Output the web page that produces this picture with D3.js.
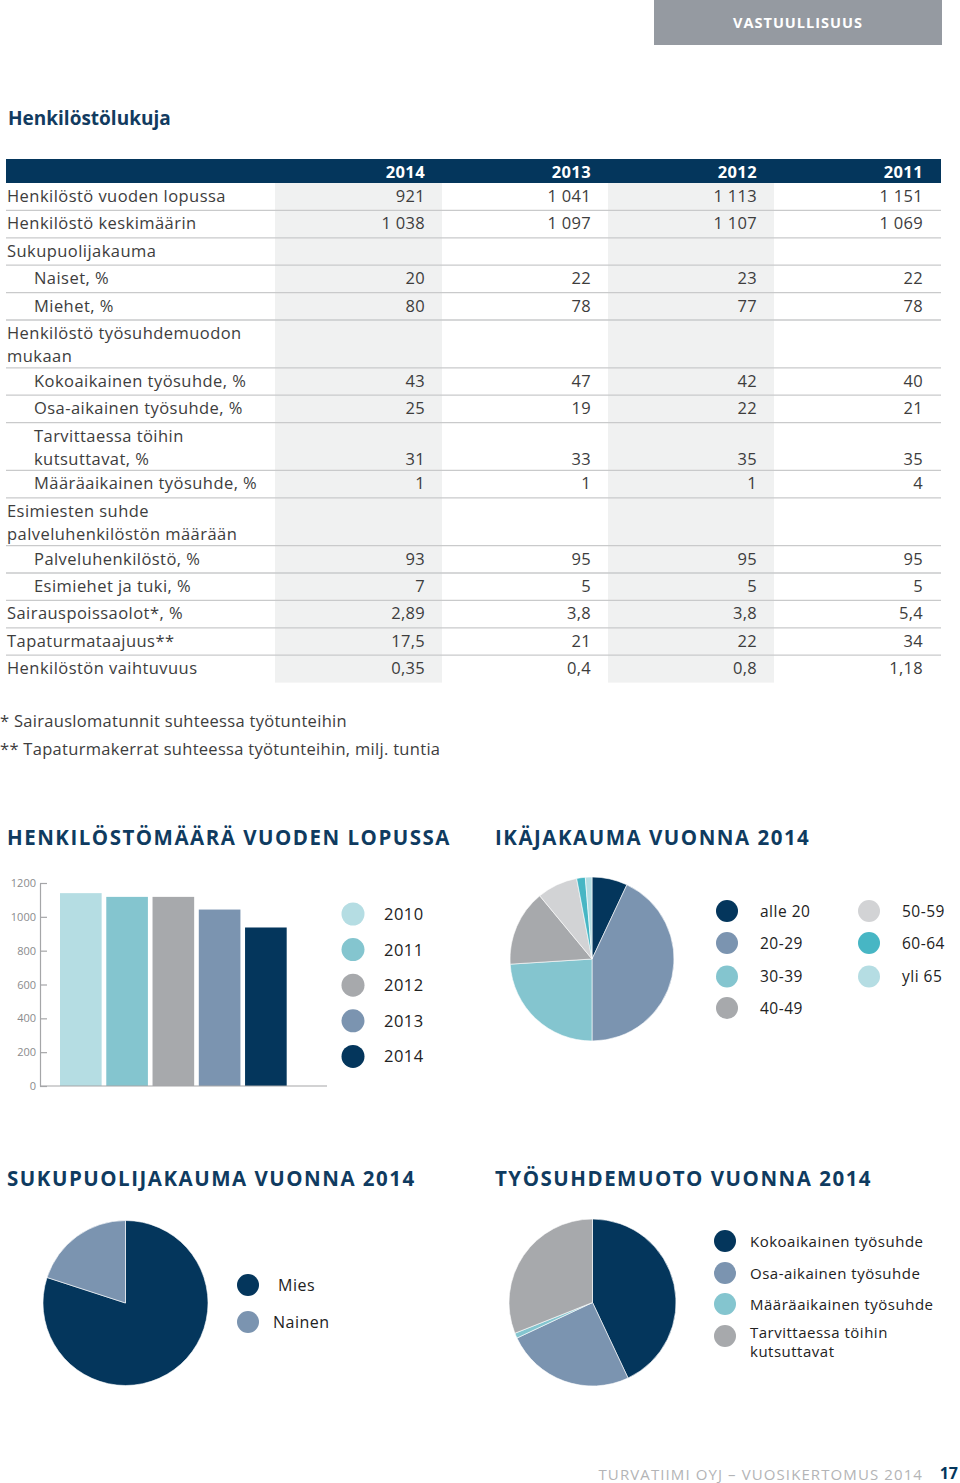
<!DOCTYPE html>
<html>
<head>
<meta charset="utf-8">
<script src="https://cdn.jsdelivr.net/npm/d3@7"></script>
<style>
  html, body { margin: 0; padding: 0; background: #fff; }
  svg { display: block; font-family: "Open Sans", "Noto Sans", sans-serif; }
</style>
</head>
<body>
<svg id="page" width="960" height="1483"></svg>
<script>
// ---------- DATA ----------
const tableYears = ["2014", "2013", "2012", "2011"];
const rowLabels = [
  ["Henkilöstö vuoden lopussa"],
  ["Henkilöstö keskimäärin"],
  ["Sukupuolijakauma"],
  ["Naiset, %"],
  ["Miehet, %"],
  ["Henkilöstö työsuhdemuodon", "mukaan"],
  ["Kokoaikainen työsuhde, %"],
  ["Osa-aikainen työsuhde, %"],
  ["Tarvittaessa töihin", "kutsuttavat, %"],
  ["Määräaikainen työsuhde, %"],
  ["Esimiesten suhde", "palveluhenkilöstön määrään"],
  ["Palveluhenkilöstö, %"],
  ["Esimiehet ja tuki, %"],
  ["Sairauspoissaolot*, %"],
  ["Tapaturmataajuus**"],
  ["Henkilöstön vaihtuvuus"]
];
const rowIndent = [0,0,0,1,1,0,1,1,1,1,0,1,1,0,0,0];
const values2014 = ["921","1 038","","20","80","","43","25","31","1","","93","7","2,89","17,5","0,35"];
const values2013 = ["1 041","1 097","","22","78","","47","19","33","1","","95","5","3,8","21","0,4"];
const values2012 = ["1 113","1 107","","23","77","","42","22","35","1","","95","5","3,8","22","0,8"];
const values2011 = ["1 151","1 069","","22","78","","40","21","35","4","","95","5","5,4","34","1,18"];
const footnotes = ["* Sairauslomatunnit suhteessa työtunteihin", "** Tapaturmakerrat suhteessa työtunteihin, milj. tuntia"];

const barYears = ["2010", "2011", "2012", "2013", "2014"];
const barValues = [1140, 1118, 1118, 1043, 937];
const barTicks = [0, 200, 400, 600, 800, 1000, 1200];

const ageGroups = ["alle 20", "20-29", "30-39", "40-49", "50-59", "60-64", "yli 65"];
const ageShares = [7, 43, 24, 15, 8, 1.7, 1.3];

const genderGroups = ["Mies", "Nainen"];
const genderShares = [80, 20];

const empGroups = ["Kokoaikainen työsuhde", "Osa-aikainen työsuhde", "Määräaikainen työsuhde", "Tarvittaessa töihin kutsuttavat"];
const empShares = [43, 25, 1, 31];

// ---------- STYLE ----------
const NAVY = "#04365c", SLATE = "#7b94b0", TEAL_L = "#84c5cf", GRAY = "#a7a9ac",
      LGRAY = "#d2d3d5", TEAL = "#47b6c4", PALE = "#b5dde3", TEXT = "#3d3d3d";

const svg = d3.select("#page");

// Top tab
svg.append("rect").attr("x", 654).attr("y", 0).attr("width", 288).attr("height", 45).attr("fill", "#959aa1");
svg.append("text").attr("x", 798).attr("y", 28).attr("text-anchor", "middle")
  .attr("fill", "#fff").attr("font-weight", 700).attr("font-size", 14.5).attr("letter-spacing", 1)
  .text("VASTUULLISUUS");

// Title
svg.append("text").attr("x", 8).attr("y", 125).attr("fill", "#123b60").attr("font-weight", 700)
  .attr("font-size", 19).text("Henkilöstölukuja");

// ---------- TABLE ----------
const tLeft = 6, tRight = 941, headTop = 159, headBottom = 183;
const singleH = 27.4, doubleH = 47.8;
const colRight = [425, 591, 757, 923];
const shadeCols = [[275, 442], [608, 774]];
const colValues = [values2014, values2013, values2012, values2011];

const rowTops = [];
let yy = headBottom;
rowLabels.forEach(l => { rowTops.push(yy); yy += (l.length > 1 ? doubleH : singleH); });
const tableBottom = yy;

const g = svg.append("g");
shadeCols.forEach(([a, b]) => {
  g.append("rect").attr("x", a).attr("y", headBottom).attr("width", b - a)
    .attr("height", tableBottom - headBottom).attr("fill", "#f0f1f1");
});
g.append("rect").attr("x", tLeft).attr("y", headTop).attr("width", tRight - tLeft)
  .attr("height", headBottom - headTop).attr("fill", NAVY);
g.selectAll("text.yr").data(tableYears).join("text").attr("class", "yr")
  .attr("x", (d, i) => colRight[i]).attr("y", headTop + 19).attr("text-anchor", "end")
  .attr("fill", "#fff").attr("font-weight", 700).attr("font-size", 16.5).attr("letter-spacing", 0.4).text(d => d);

// separators
g.selectAll("line.sep").data(rowTops.slice(1)).join("line").attr("class", "sep")
  .attr("x1", tLeft).attr("x2", tRight).attr("y1", d => d).attr("y2", d => d)
  .attr("stroke", "#c9cacb").attr("stroke-width", 1.3);

rowLabels.forEach((lines, i) => {
  const top = rowTops[i];
  lines.forEach((ln, k) => {
    g.append("text").attr("x", rowIndent[i] ? 34 : 7).attr("y", top + 19 + k * 23)
      .attr("fill", TEXT).attr("font-size", 16.5).attr("letter-spacing", 0.45).text(ln);
  });
  const vy = top + 19 + (lines.length - 1) * 23;
  colValues.forEach((vals, c) => {
    if (vals[i]) g.append("text").attr("x", colRight[c]).attr("y", vy).attr("text-anchor", "end")
      .attr("fill", TEXT).attr("font-size", 16.5).attr("letter-spacing", 0.3).text(vals[i]);
  });
});

// footnotes
svg.selectAll("text.fn").data(footnotes).join("text").attr("class", "fn")
  .attr("x", 0).attr("y", (d, i) => 727 + i * 28).attr("fill", TEXT).attr("font-size", 16.5)
  .attr("letter-spacing", 0.3).text(d => d);

// ---------- SECTION TITLES ----------
const titles = [
  ["HENKILÖSTÖMÄÄRÄ VUODEN LOPUSSA", 7, 845],
  ["IKÄJAKAUMA VUONNA 2014", 495, 845],
  ["SUKUPUOLIJAKAUMA VUONNA 2014", 7, 1186],
  ["TYÖSUHDEMUOTO VUONNA 2014", 495, 1186]
];
svg.selectAll("text.st").data(titles).join("text").attr("class", "st")
  .attr("x", d => d[1]).attr("y", d => d[2]).attr("fill", "#0f3b60")
  .attr("font-weight", 700).attr("font-size", 20.5).attr("letter-spacing", 1.5).text(d => d[0]);

// ---------- BAR CHART ----------
const x = d3.scaleBand().domain(barYears).range([57.7, 289]).paddingInner(0.1).paddingOuter(0.05);
const y = d3.scaleLinear().domain([0, 1200]).range([1086, 883]);
const barColor = d3.scaleOrdinal().domain(barYears).range([PALE, TEAL_L, GRAY, SLATE, NAVY]);

const axisG = svg.append("g").attr("transform", "translate(40,0)")
  .call(d3.axisLeft(y).tickValues(barTicks).tickFormat(d3.format("d"))
    .tickSize(-7).tickPadding(4).tickSizeOuter(0));
axisG.select(".domain").attr("stroke", "#a5a6a8").attr("stroke-width", 1.2);
axisG.selectAll(".tick line").attr("stroke", "#a5a6a8").attr("stroke-width", 1.2);
axisG.selectAll(".tick text").attr("fill", "#8a8b8d").attr("font-size", 11)
  .attr("font-family", "'Open Sans', sans-serif");

svg.selectAll("rect.bar").data(barYears).join("rect").attr("class", "bar")
  .attr("x", d => x(d)).attr("width", x.bandwidth())
  .attr("y", (d, i) => y(barValues[i])).attr("height", (d, i) => y(0) - y(barValues[i]))
  .attr("fill", d => barColor(d));
svg.append("line").attr("x1", 40).attr("x2", 327).attr("y1", y(0)).attr("y2", y(0))
  .attr("stroke", "#a5a6a8").attr("stroke-width", 1.2);

// bar legend
const barLeg = svg.selectAll("g.bl").data(barYears).join("g").attr("class", "bl")
  .attr("transform", (d, i) => `translate(353,${914 + i * 35.6})`);
barLeg.append("circle").attr("r", 11.5).attr("fill", d => barColor(d));
barLeg.append("text").attr("x", 31).attr("y", 6).attr("font-size", 16.5).attr("fill", "#222")
  .attr("letter-spacing", 0.5).text(d => d);

// ---------- PIES ----------
const pie = d3.pie().sort(null).value(d => d);

function drawPie(cx, cy, r, shares, colors) {
  const arc = d3.arc().innerRadius(0).outerRadius(r);
  svg.append("g").attr("transform", `translate(${cx},${cy})`)
    .selectAll("path").data(pie(shares)).join("path")
    .attr("d", arc).attr("fill", (d, i) => colors[i])
    .attr("stroke", "#fff").attr("stroke-width", 0.6);
}

// age pie
const ageColors = [NAVY, SLATE, TEAL_L, GRAY, LGRAY, TEAL, PALE];
drawPie(592, 959, 82, ageShares, ageColors);
const ageLegPos = [[727, 911], [727, 943], [727, 976.5], [727, 1008], [869, 911], [869, 943], [869, 976.5]];
const ageLeg = svg.selectAll("g.al").data(ageGroups).join("g").attr("class", "al")
  .attr("transform", (d, i) => `translate(${ageLegPos[i][0]},${ageLegPos[i][1]})`);
ageLeg.append("circle").attr("r", 11).attr("fill", (d, i) => ageColors[i]);
ageLeg.append("text").attr("x", 33).attr("y", 5.5).attr("font-size", 15.5).attr("fill", "#222")
  .attr("letter-spacing", 0.5).text(d => d);

// gender pie
const genderColors = [NAVY, SLATE];
drawPie(125.5, 1303, 82.5, genderShares, genderColors);
const gLegPos = [[248, 1285, 278], [248, 1322, 273]];
const gLeg = svg.selectAll("g.gl").data(genderGroups).join("g").attr("class", "gl")
  .attr("transform", (d, i) => `translate(${gLegPos[i][0]},${gLegPos[i][1]})`);
gLeg.append("circle").attr("r", 11).attr("fill", (d, i) => genderColors[i]);
gLeg.append("text").attr("x", (d, i) => gLegPos[i][2] - gLegPos[i][0]).attr("y", 6)
  .attr("font-size", 16).attr("fill", "#222").attr("letter-spacing", 0.5).text(d => d);

// employment pie
const empColors = [NAVY, SLATE, TEAL_L, GRAY];
drawPie(592.5, 1302.5, 83.5, empShares, empColors);
const eLegY = [1241, 1273, 1304, 1336];
const eLeg = svg.selectAll("g.el").data(empGroups).join("g").attr("class", "el")
  .attr("transform", (d, i) => `translate(725,${eLegY[i]})`);
eLeg.append("circle").attr("r", 11).attr("fill", (d, i) => empColors[i]);
eLeg.each(function (d, i) {
  const sel = d3.select(this);
  const lines = i === 3 ? ["Tarvittaessa töihin", "kutsuttavat"] : [d];
  lines.forEach((ln, k) => {
    sel.append("text").attr("x", 25).attr("y", (i === 3 ? 2 : 5.5) + k * 19)
      .attr("font-size", 15).attr("fill", "#222").attr("letter-spacing", 0.5).text(ln);
  });
});

// ---------- FOOTER ----------
svg.append("text").attr("x", 923).attr("y", 1480).attr("text-anchor", "end")
  .attr("fill", "#b3b4b6").attr("font-size", 15).attr("letter-spacing", 1.1)
  .text("TURVATIIMI OYJ – VUOSIKERTOMUS 2014");
svg.append("text").attr("x", 958).attr("y", 1479).attr("text-anchor", "end")
  .attr("fill", NAVY).attr("font-weight", 700).attr("font-size", 16).text("17");
</script>
</body>
</html>
